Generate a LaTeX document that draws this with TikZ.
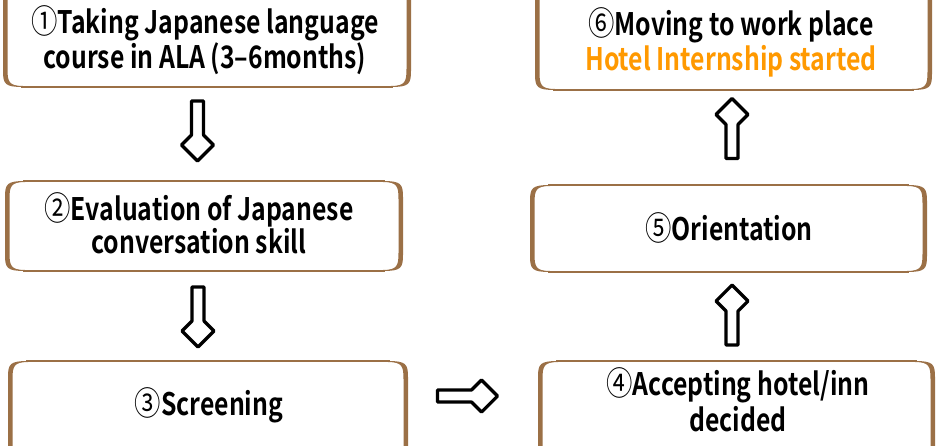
\documentclass[tikz,border=0pt]{standalone}
\usepackage{fontspec}
\setmainfont{Noto Sans CJK JP}[FakeStretch=0.8,BoldFont={* Bold},BoldFeatures={FakeStretch=0.8}]
\usetikzlibrary{calc}
\definecolor{brn}{RGB}{155,112,70}
\definecolor{org}{RGB}{255,153,0}
\newcommand\cnum[1]{{\fontsize{33}{33}\selectfont\mdseries #1}}
\newcommand\boxsides[1]{%
  \draw[thinb] ($(#1.north west)+(18,0)$) -- ($(#1.north east)+(-18,0)$);
  \draw[thinb] ($(#1.south west)+(18,0)$) -- ($(#1.south east)+(-18,0)$);
  \fill[brn] ($(#1.north west)+(20,0)$) .. controls ($(#1.north west)+(2,0)$) and ($(#1.north west)+(0,3)$) .. ($(#1.north west)+(0,16)$)
    -- ($(#1.south west)+(0,-16)$) .. controls ($(#1.south west)+(0,-3)$) and ($(#1.south west)+(2,0)$) .. ($(#1.south west)+(20,0)$)
    -- ($(#1.south west)+(20,-1)$) .. controls ($(#1.south west)+(6,-1.2)$) and ($(#1.south west)+(4.5,-5)$) .. ($(#1.south west)+(4.5,-18)$)
    -- ($(#1.north west)+(4.5,18)$) .. controls ($(#1.north west)+(4.5,5)$) and ($(#1.north west)+(6,1.2)$) .. ($(#1.north west)+(20,1)$) -- cycle;
  \fill[brn] ($(#1.north east)+(-20,0)$) .. controls ($(#1.north east)+(-2,0)$) and ($(#1.north east)+(0,3)$) .. ($(#1.north east)+(0,16)$)
    -- ($(#1.south east)+(0,-16)$) .. controls ($(#1.south east)+(0,-3)$) and ($(#1.south east)+(-2,0)$) .. ($(#1.south east)+(-20,0)$)
    -- ($(#1.south east)+(-20,-1)$) .. controls ($(#1.south east)+(-6,-1.2)$) and ($(#1.south east)+(-4.5,-5)$) .. ($(#1.south east)+(-4.5,-18)$)
    -- ($(#1.north east)+(-4.5,18)$) .. controls ($(#1.north east)+(-4.5,5)$) and ($(#1.north east)+(-6,1.2)$) .. ($(#1.north east)+(-20,1)$) -- cycle;
}
\begin{document}
\begin{tikzpicture}[x=1pt,y=-1pt,
  box/.style={rectangle,draw=none,inner sep=0pt,outer sep=0pt},
  thinb/.style={draw=brn,line width=1.5pt},
  txt/.style={anchor=base,align=center,inner sep=0pt,font=\bfseries\fontsize{31}{35}\selectfont},
  blockarrow/.pic={\draw[line width=3.2pt,line join=round,fill=white]
    (-30,-6) -- (4,-6) -- (14,-16) -- (30,0) -- (14,16) -- (4,6) -- (-30,6) -- cycle;}]
\useasboundingbox (0,0) rectangle (940,445);
\clip (0,0) rectangle (940,445);
\fill[white] (0,0) rectangle (940,445);
% boxes
\node[box,minimum width=408pt,minimum height=107pt] (b1) at (207,33.5) {};
\node[box,minimum width=398pt,minimum height=90pt] (b2) at (204,226) {};
\node[box,minimum width=400pt,minimum height=109pt] (b3) at (208,415.5) {};
\node[box,minimum width=397pt,minimum height=109pt] (b4) at (736.5,415.5) {};
\node[box,minimum width=397pt,minimum height=87pt] (b5) at (728.5,228.5) {};
\node[box,minimum width=397pt,minimum height=110pt] (b6) at (733.5,35) {};
\boxsides{b1}\boxsides{b2}\boxsides{b3}\boxsides{b4}\boxsides{b5}\boxsides{b6}
% texts (base = baseline of last line)
\node[txt] (t1) at (205,68) {\cnum{①}Taking Japanese language\\course in ALA (3–6months)};
\node[txt,font=\bfseries\fontsize{31}{30}\selectfont] (t2) at (199,253) {\cnum{②}Evaluation of Japanese\\conversation skill};
\node[txt] (t3) at (209,415) {\cnum{③}Screening};
\node[txt,font=\bfseries\fontsize{31}{36}\selectfont] (t4) at (738,431) {\cnum{④}Accepting hotel/inn\\decided};
\node[txt] (t5) at (729,240) {\cnum{⑤}Orientation};
\node[txt] (t6) at (731,70) {\cnum{⑥}Moving to work place\\\textcolor{org}{Hotel Internship started}};
% arrows
\coordinate (a12) at (197.5,131);
\coordinate (a23) at (198,317);
\coordinate (a34) at (467.5,396);
\coordinate (a45) at (732,315);
\coordinate (a56) at (732,128.5);
\pic[rotate=-90] at (a12) {blockarrow};
\pic[rotate=-90] at (a23) {blockarrow};
\pic at (a34) {blockarrow};
\pic[rotate=90] at (a45) {blockarrow};
\pic[rotate=90] at (a56) {blockarrow};
\end{tikzpicture}
\end{document}
